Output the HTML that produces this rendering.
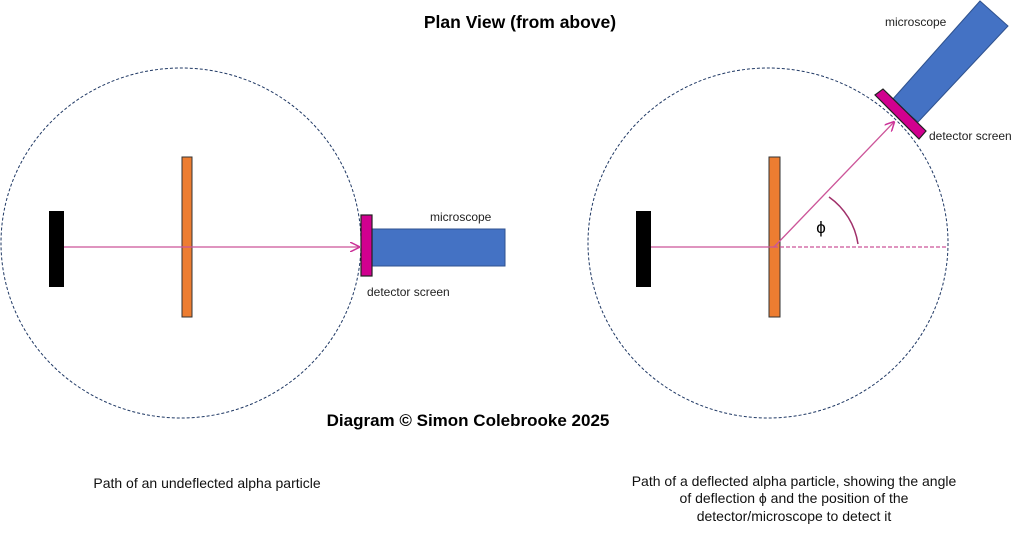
<!DOCTYPE html>
<html><head><style>body{margin:0;background:#fff}svg{display:block}</style></head><body>
<svg width="1023" height="536" viewBox="0 0 1023 536" xmlns="http://www.w3.org/2000/svg" font-family="Liberation Sans, sans-serif">
<defs><marker id="a" markerWidth="10" markerHeight="10" refX="9" refY="5" orient="auto" markerUnits="userSpaceOnUse"><path d="M0,0 L10,5 L0,10" fill="none" stroke="#cc3399" stroke-width="1.5"/></marker></defs>
<text x="520" y="28" text-anchor="middle" font-size="17.5" font-weight="bold">Plan View (from above)</text>
<text x="468" y="426" text-anchor="middle" font-size="17" font-weight="bold">Diagram © Simon Colebrooke 2025</text>
<!-- left -->
<ellipse cx="181" cy="243" rx="180" ry="175" fill="none" stroke="#1f3864" stroke-width="1" stroke-dasharray="3,2"/>
<rect x="49" y="211" width="15" height="76" fill="#000"/>
<rect x="182" y="157" width="10" height="160" fill="#ed7d31" stroke="#333" stroke-width="1"/>
<line x1="64" y1="247" x2="359" y2="247" stroke="#cc5599" stroke-width="1.3" marker-end="url(#a)"/>
<rect x="372" y="229" width="133" height="37" fill="#4472c4" stroke="#2f528f" stroke-width="1"/>
<rect x="361" y="215" width="11" height="61" fill="#d1008f" stroke="#222" stroke-width="1.2"/>
<text x="430" y="221" font-size="12" fill="#222">microscope</text>
<text x="367" y="296" font-size="12" fill="#222">detector screen</text>
<!-- right -->
<ellipse cx="768" cy="243" rx="180" ry="175" fill="none" stroke="#1f3864" stroke-width="1" stroke-dasharray="3,2"/>
<rect x="636" y="211" width="15" height="76" fill="#000"/>
<rect x="769" y="157" width="11" height="160" fill="#ed7d31" stroke="#333" stroke-width="1"/>
<line x1="651" y1="247" x2="774" y2="247" stroke="#cc5599" stroke-width="1.3"/>
<line x1="774" y1="247" x2="948" y2="247" stroke="#cc5599" stroke-width="1.3" stroke-dasharray="4,2"/>
<line x1="774" y1="247" x2="894" y2="122" stroke="#cc5599" stroke-width="1.3" marker-end="url(#a)"/>
<path d="M829,197 A70,70 0 0 1 858,244" fill="none" stroke="#a0306a" stroke-width="1.5"/>
<text x="821" y="233" font-size="17" text-anchor="middle">ϕ</text>
<polygon points="892,100 980,1 1008,26 918,122" fill="#4472c4" stroke="#2f528f" stroke-width="1"/>
<polygon points="875,95 883,89 926,131 919,139" fill="#d1008f" stroke="#222" stroke-width="1.2"/>
<text x="885" y="26" font-size="12" fill="#222">microscope</text>
<text x="929" y="140" font-size="12" fill="#222">detector screen</text>
<!-- captions -->
<text x="207" y="488" text-anchor="middle" font-size="14" fill="#111">Path of an undeflected  alpha particle</text>
<text x="794" y="486" text-anchor="middle" font-size="14" fill="#111">Path of a deflected alpha particle, showing the angle</text>
<text x="794" y="503" text-anchor="middle" font-size="14" fill="#111">of deflection ϕ and the position of the</text>
<text x="794" y="521" text-anchor="middle" font-size="14" fill="#111">detector/microscope to detect it</text>
</svg>
</body></html>
